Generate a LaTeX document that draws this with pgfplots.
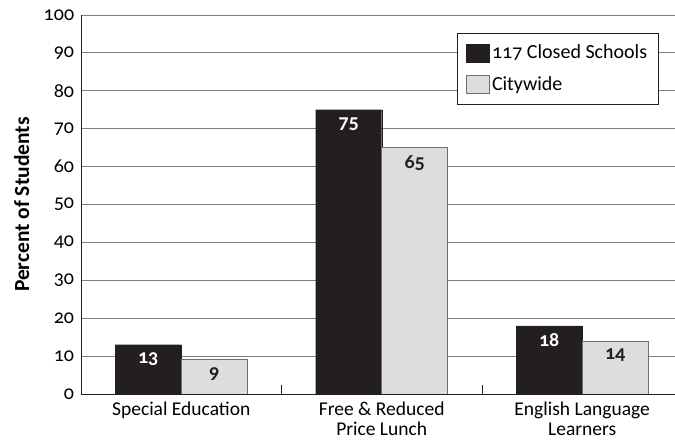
\documentclass[border=0pt]{standalone}
\usepackage{fontspec}
\setmainfont{Carlito}[Numbers=OldStyle]
\usepackage{pgfplots}
\pgfplotsset{compat=1.18}
\definecolor{darkbar}{HTML}{231F20}
\definecolor{lightbar}{HTML}{DCDDDF}
\definecolor{lightedge}{HTML}{6D6E71}
\definecolor{gridc}{HTML}{808080}
\begin{document}
\fontsize{20pt}{22pt}\selectfont
\begin{tikzpicture}
\useasboundingbox (-81pt,-47pt) rectangle (594pt,394pt);
\begin{axis}[
  at={(0,0)}, anchor=south west,
  scale only axis, width=594pt, height=379pt,
  xmin=-0.5, xmax=2.463, ymin=0, ymax=100,
  axis x line*=bottom, axis y line*=left,
  axis line style={draw=darkbar, line width=0.9pt},
  ytick={0,10,...,100},
  ymajorgrids, grid style={draw=gridc, line width=0.8pt},
  major y tick style={draw=none},
  yticklabel style={font=\fontsize{20pt}{22pt}\selectfont, xshift=0pt},
  /pgf/number format/assume math mode=true,
  xtick={0,1,2},
  xticklabels={Special Education, Free \& Reduced\\Price Lunch, English Language\\Learners},
  xticklabel style={align=center, font=\fontsize{19.5pt}{19.5pt}\selectfont, yshift=3pt},
  major x tick style={draw=none},
  extra x ticks={0.5,1.5},
  extra x tick labels={},
  extra x tick style={major tick length=9pt, tick align=inside, major x tick style={draw=darkbar, line width=0.8pt}},
  ylabel={\bfseries Percent of Students},
  ylabel style={at={(axis description cs:-0.1000,0.5)}, anchor=center, font=\fontsize{21.5pt}{23pt}\selectfont},
  ybar, bar width=66pt,
  nodes near coords,
  every node near coord/.append style={anchor=north, yshift=-1pt, font=\fontsize{20pt}{22pt}\selectfont\bfseries},
  legend style={at={(rel axis cs:0.633,0.9525)}, anchor=north west, draw=darkbar, line width=0.8pt, fill=white,
    font=\fontsize{20pt}{22pt}\selectfont, inner xsep=9pt, inner ysep=9pt, row sep=11pt, cells={anchor=west}},
  legend image code/.code={\draw[#1, line width=0.6pt] (0pt,-9pt) rectangle (23pt,9pt);},
]
\addplot[fill=darkbar, draw=darkbar, bar shift=-33pt, every node near coord/.append style={text=white}]
  coordinates {(0,13) (1,75) (2,18)};
\addplot[fill=lightbar, draw=lightedge, line width=0.8pt, bar shift=33pt, every node near coord/.append style={text=darkbar}]
  coordinates {(0,9) (1,65) (2,14)};
\legend{117 Closed Schools, Citywide}
\end{axis}
\end{tikzpicture}
\end{document}
